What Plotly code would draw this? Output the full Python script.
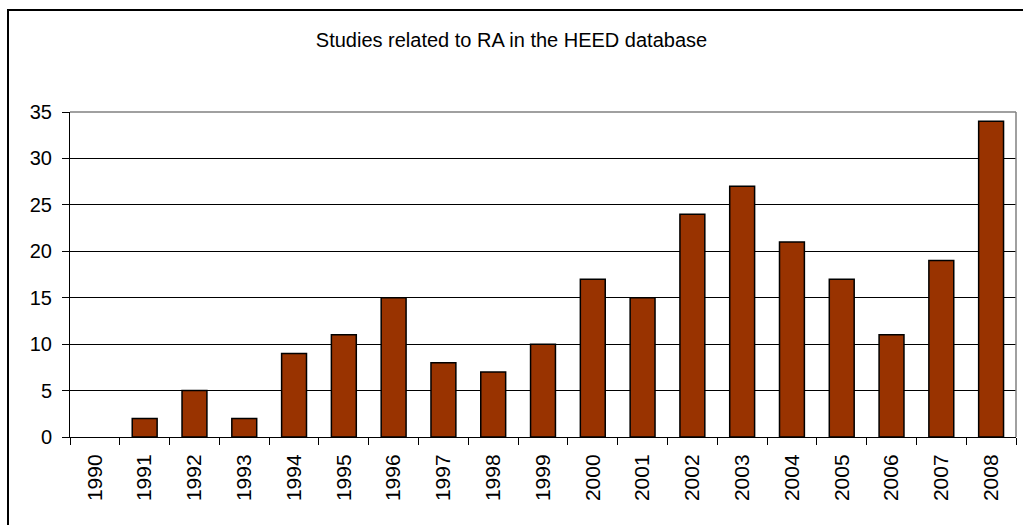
import plotly.graph_objects as go

years = [str(y) for y in range(1990, 2009)]
studies = [0, 2, 5, 2, 9, 11, 15, 8, 7, 10, 17, 15, 24, 27, 21, 17, 11, 19, 34]
y_ticks = [0, 5, 10, 15, 20, 25, 30, 35]

W, H = 1023, 525
ML, MR, MT, MB = 70, 7, 112, 88

# no outline on empty bars
outline_widths = [0 if v == 0 else 1.5 for v in studies]

fig = go.Figure(
    go.Bar(
        x=years,
        y=studies,
        marker=dict(color="#993300", line=dict(color="#000000", width=outline_widths)),
        width=0.5,
    )
)

font = dict(family="Liberation Sans, Arial, sans-serif", size=20, color="#000000")

fig.update_layout(
    width=W,
    height=H,
    margin=dict(l=ML, r=MR, t=MT, b=MB, pad=0),
    paper_bgcolor="#ffffff",
    plot_bgcolor="#ffffff",
    showlegend=False,
    font=font,
    title=dict(
        text="Studies related to RA in the HEED database",
        x=0.5,
        xanchor="center",
        y=1 - 40 / H,
        yanchor="middle",
        font=font,
    ),
    xaxis=dict(
        type="category",
        tickson="boundaries",
        ticks="outside",
        ticklen=7,
        tickcolor="#000000",
        tickangle=-90,
        showline=True,
        linecolor="#000000",
        linewidth=1,
        showgrid=False,
        tickfont=dict(family="Liberation Sans, Arial, sans-serif", size=21, color="#000000"),
        ticklabelstandoff=8,
    ),
    yaxis=dict(
        range=[0, 35],
        tickvals=y_ticks,
        ticks="outside",
        ticklen=7,
        tickcolor="#000000",
        showline=True,
        linecolor="#000000",
        linewidth=1,
        showgrid=True,
        gridcolor="#000000",
        gridwidth=1,
        zeroline=False,
        tickfont=font,
        ticklabelstandoff=6,
    ),
    shapes=[
        # plot area frame (top and right edges)
        dict(type="line", xref="paper", yref="paper", x0=0, x1=1, y0=1, y1=1,
             line=dict(color="#808080", width=1.5), layer="above"),
        dict(type="line", xref="paper", yref="paper", x0=1, x1=1, y0=0, y1=1,
             line=dict(color="#808080", width=1.5), layer="above"),
        # outer chart border
        dict(type="rect", xref="paper", yref="paper",
             x0=(8 - ML) / (W - ML - MR), x1=(W + 10 - ML) / (W - ML - MR),
             y0=-(MB + 10) / (H - MT - MB), y1=(H - MB - 10) / (H - MT - MB),
             line=dict(color="#000000", width=2), fillcolor="rgba(0,0,0,0)",
             layer="above"),
    ],
)

fig.write_html("out.html")
